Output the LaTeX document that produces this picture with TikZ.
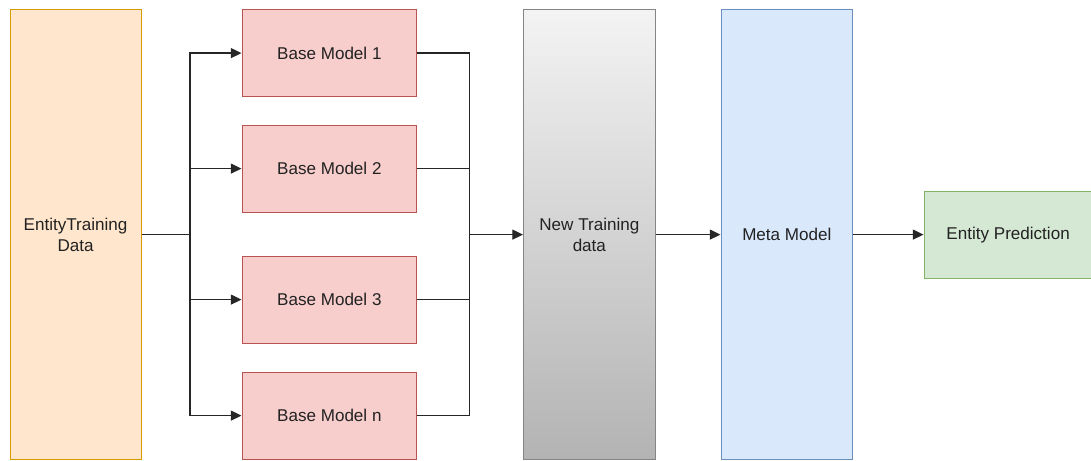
\documentclass[tikz,border=0pt]{standalone}
\usepackage{fontspec}
\setmainfont{Liberation Sans}
\usetikzlibrary{arrows.meta}
\definecolor{orfill}{HTML}{FFE6CC}\definecolor{ordraw}{HTML}{D79B00}
\definecolor{rfill}{HTML}{F8CECC}\definecolor{rdraw}{HTML}{B85450}
\definecolor{bfill}{HTML}{DAE8FC}\definecolor{bdraw}{HTML}{6C8EBF}
\definecolor{gfill}{HTML}{D5E8D4}\definecolor{gdraw}{HTML}{82B366}
\definecolor{gtop}{HTML}{F3F3F3}\definecolor{gbot}{HTML}{B3B3B3}\definecolor{gdr}{HTML}{666666}
\definecolor{txt}{HTML}{222222}
\begin{document}
\begin{tikzpicture}[x=0.75pt,y=-0.75pt,
  box/.style={draw, line width=0.9pt, inner sep=0pt, anchor=north west, text=txt,
     font=\fontsize{12.8pt}{15.5pt}\selectfont, align=center},
  base/.style={box, fill=rfill, draw=rdraw, minimum width=174.5*0.75pt, minimum height=87*0.75pt},
  conn/.style={draw=black!85, line width=0.9pt},
  arr/.style={conn, -{Triangle[length=8pt,width=7.5pt]}}]
\useasboundingbox (0,0) rectangle (1091,460);
\node[box, fill=orfill, draw=ordraw, minimum width=131*0.75pt, minimum height=450*0.75pt] (etd) at (9.5,9) {EntityTraining\\Data};
\node[base] (b1) at (241.5,9) {Base Model 1};
\node[base] (b2) at (241.5,124.5) {Base Model 2};
\node[base] (b3) at (241.5,255.5) {Base Model 3};
\node[base] (bn) at (241.5,371.5) {Base Model n};
\node[box, top color=gtop, bottom color=gbot, draw=gdr!80, minimum width=131.5*0.75pt, minimum height=450*0.75pt] (ntd) at (523,9) {New Training\\data};
\node[box, fill=bfill, draw=bdraw, minimum width=131.5*0.75pt, minimum height=450*0.75pt] (meta) at (720.5,9) {Meta Model};
\node[box, fill=gfill, draw=gdraw, minimum width=168*0.75pt, minimum height=87*0.75pt] (ep) at (923.5,190.5) {Entity Prediction};
\coordinate (sp) at (etd.east -| 190,0);
\coordinate (mg) at (ntd.west -| 469.5,0);
\draw[conn] (etd.east) -- (sp);
\foreach \b in {b1,b2,b3,bn}{
  \draw[arr] (sp) |- (\b.west);
  \draw[conn] (\b.east) -| (mg);
}
\draw[arr] (mg) -- (ntd.west);
\draw[arr] (ntd.east) -- (meta.west);
\draw[arr] (meta.east |- ep.west) -- (ep.west);
\end{tikzpicture}
\end{document}
